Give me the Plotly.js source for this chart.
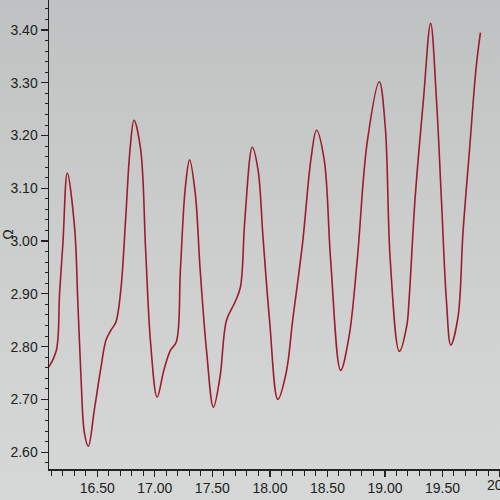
<!DOCTYPE html>
<html>
<head>
<meta charset="utf-8">
<script src="https://cdn.plot.ly/plotly-3.0.1.min.js"></script>
<style>
  html, body { margin: 0; padding: 0; }
  body {
    width: 500px; height: 500px; overflow: hidden;
    background: linear-gradient(to bottom, #bfc2c2 0%, #c8cbca 35%, #d0d3d1 70%, #d5d8d6 100%);
  }
  #myDiv { width: 500px; height: 500px; }
</style>
</head>
<body>
<div id="myDiv"></div>
<script>
// values
const xVals = [
  16.078, 16.144, 16.172, 16.201, 16.239, 16.302, 16.330, 16.359, 16.388, 16.422,
  16.474, 16.532, 16.575, 16.618, 16.661, 16.704, 16.747, 16.784, 16.819, 16.877,
  16.920, 16.963, 17.020, 17.078, 17.135, 17.187, 17.222, 17.265, 17.302, 17.351,
  17.394, 17.451, 17.509, 17.566, 17.623, 17.696, 17.744, 17.782, 17.847, 17.897,
  17.940, 17.997, 18.069, 18.141, 18.198, 18.284, 18.356, 18.405, 18.472, 18.528,
  18.615, 18.687, 18.759, 18.845, 18.951, 19.003, 19.046, 19.125, 19.190, 19.210,
  19.261, 19.334, 19.397, 19.448, 19.491, 19.534, 19.572, 19.635, 19.678, 19.735,
  19.793, 19.830
];
const yVals = [
  2.761, 2.793, 2.901, 2.996, 3.129, 3.027, 2.888, 2.737, 2.636, 2.611,
  2.680, 2.761, 2.812, 2.831, 2.846, 2.907, 3.045, 3.173, 3.229, 3.173,
  2.983, 2.807, 2.704, 2.755, 2.793, 2.809, 2.945, 3.102, 3.154, 3.091,
  2.945, 2.788, 2.685, 2.742, 2.850, 2.884, 2.913, 3.040, 3.178, 3.135,
  3.008, 2.850, 2.700, 2.750, 2.850, 2.996, 3.154, 3.210, 3.154, 2.964,
  2.755, 2.818, 2.964, 3.186, 3.302, 3.216, 2.964, 2.791, 2.840, 2.890,
  3.078, 3.267, 3.413, 3.267, 3.078, 2.888, 2.803, 2.856, 3.015, 3.173,
  3.330, 3.395
];
// last tick label, only partly on screen at the right edge (as in the photo)
const lastTickLabel = '20.00';

const tickFont = { family: 'Liberation Sans, Arial, sans-serif', size: 14, color: '#222' };

const data = [
  {
    x: xVals,
    y: yVals,
    type: 'scatter',
    mode: 'lines',
    line: { color: '#9c1c2c', width: 1.6, shape: 'spline', smoothing: 1 },
    hoverinfo: 'x+y',
  },
];

const layout = {
  width: 500,
  height: 500,
  margin: { l: 49, r: 0, t: 0, b: 31 },
  paper_bgcolor: 'rgba(0,0,0,0)',
  plot_bgcolor: 'rgba(0,0,0,0)',
  showlegend: false,
  xaxis: {
    range: [16.08, 20.0],
    showgrid: false,
    zeroline: false,
    showline: true,
    linecolor: '#222',
    linewidth: 1.5,
    ticks: 'outside',
    ticklen: 6,
    tickwidth: 1.2,
    tickcolor: '#222',
    tick0: 0,
    dtick: 0.5,
    tickformat: '.2f',
    tickfont: tickFont,
    minor: { ticks: 'outside', dtick: 0.1, ticklen: 5, tickcolor: '#222', tickwidth: 1 },
  },
  yaxis: {
    range: [2.568, 3.457],
    showgrid: false,
    zeroline: false,
    showline: true,
    linecolor: '#222',
    linewidth: 1.5,
    ticks: 'outside',
    ticklen: 7,
    tickwidth: 1.2,
    tickcolor: '#222',
    tick0: 0,
    dtick: 0.1,
    tickformat: '.2f',
    tickfont: tickFont,
    minor: { ticks: 'outside', dtick: 0.02, ticklen: 3, tickcolor: '#222', tickwidth: 1 },
    title: { text: 'Ω', font: { family: 'Liberation Sans, Arial, sans-serif', size: 14, color: '#222' }, standoff: 15 },
  },
  annotations: [
    {
      text: lastTickLabel,
      xref: 'paper', yref: 'paper',
      x: 1.011, y: -0.034,
      xanchor: 'center', yanchor: 'middle',
      showarrow: false,
      font: tickFont,
    },
  ],
};

Plotly.newPlot('myDiv', data, layout, { staticPlot: true });
</script>
</body>
</html>
